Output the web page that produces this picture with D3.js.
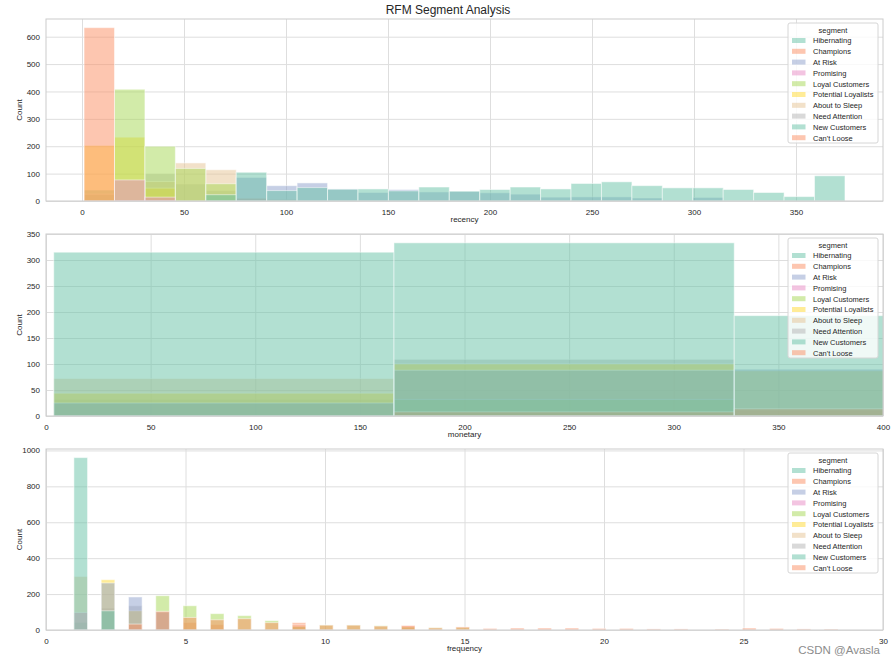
<!DOCTYPE html>
<html>
<head>
<meta charset="utf-8">
<script src="https://cdn.jsdelivr.net/npm/d3@7"></script>
<style>
  html, body { margin: 0; padding: 0; background: #fff; }
  svg { display: block; font-family: "Liberation Sans", Arial, sans-serif; }
</style>
</head>
<body>
<svg id="chart" width="895" height="664"></svg>
<script>
// ---------------- DATA ----------------
const segments = ["Hibernating", "Champions", "At Risk", "Promising", "Loyal Customers",
  "Potential Loyalists", "About to Sleep", "Need Attention", "New Customers", "Can't Loose"];
const palette = ["#66c2a5", "#fc8d62", "#8da0cb", "#e78ac3", "#a6d854",
  "#ffd92f", "#e5c494", "#b3b3b3", "#66c2a5", "#fc8d62"];

// recency histogram: 25 bins starting at 1, width 14.92
const recencyBinStart = 1;
const recencyBinWidth = 14.92;
const recencyHibernating = [0, 0, 0, 0, 23, 105, 38, 49, 43, 44, 37, 51, 36, 42, 51, 44, 64, 70, 56, 48, 48, 42, 31, 16, 92];
const recencyChampions   = [633, 0, 0, 0, 0, 0, 0, 0, 0, 0, 0, 0, 0, 0, 0, 0, 0, 0, 0, 0, 0, 0, 0, 0, 0];
const recencyAtRisk      = [0, 0, 0, 0, 0, 86, 56, 66, 44, 31, 42, 33, 35, 30, 25, 14, 15, 15, 11, 3, 13, 0, 0, 0, 0];
const recencyPromising   = [0, 77, 14, 0, 0, 0, 0, 0, 0, 0, 0, 0, 0, 0, 0, 0, 0, 0, 0, 0, 0, 0, 0, 0, 0];
const recencyLoyal       = [0, 408, 200, 119, 63, 0, 0, 0, 0, 0, 0, 0, 0, 0, 0, 0, 0, 0, 0, 0, 0, 0, 0, 0, 0];
const recencyPotential   = [203, 233, 47, 0, 0, 0, 0, 0, 0, 0, 0, 0, 0, 0, 0, 0, 0, 0, 0, 0, 0, 0, 0, 0, 0];
const recencyAboutSleep  = [0, 0, 71, 139, 114, 0, 0, 0, 0, 0, 0, 0, 0, 0, 0, 0, 0, 0, 0, 0, 0, 0, 0, 0, 0];
const recencyNeedAttn    = [25, 0, 99, 62, 38, 0, 0, 0, 0, 0, 0, 0, 0, 0, 0, 0, 0, 0, 0, 0, 0, 0, 0, 0, 0];
const recencyNewCust     = [40, 0, 0, 0, 0, 0, 0, 0, 0, 0, 0, 0, 0, 0, 0, 0, 0, 0, 0, 0, 0, 0, 0, 0, 0];
const recencyCantLoose   = [0, 0, 0, 0, 0, 10, 5, 0, 0, 0, 0, 0, 0, 0, 0, 0, 0, 0, 0, 0, 0, 0, 0, 0, 0];

// monetary histogram: bins starting at 3.7, width 162.6 (axis clipped at 400)
const monetaryBinStart = 3.7;
const monetaryBinWidth = 162.6;
const monetaryHibernating = [315, 333, 193];
const monetaryChampions   = [0, 8, 14];
const monetaryAtRisk      = [25, 88, 90];
const monetaryPromising   = [0, 0, 0];
const monetaryLoyal       = [0, 32, 0];
const monetaryPotential   = [44, 100, 87];
const monetaryAboutSleep  = [72, 0, 0];
const monetaryNeedAttn    = [32, 109, 0];
const monetaryNewCust     = [25, 0, 0];
const monetaryCantLoose   = [0, 0, 11];

// frequency: counts per integer frequency 1..28, binned with width 0.489 starting at 1
const frequencyBinStart = 1;
const frequencyBinWidth = 0.489;
const frequencyValues = d3.range(1, 29);
const frequencyHibernating = [960, 107, 0, 0, 0, 0, 0, 0, 0, 0, 0, 0, 0, 0, 0, 0, 0, 0, 0, 0, 0, 0, 0, 0, 0, 0, 0, 0];
const frequencyChampions   = [0, 0, 33, 104, 70, 57, 63, 41, 28, 27, 27, 22, 24, 12, 17, 9, 11, 11, 11, 9, 9, 6, 6, 5, 11, 9, 6, 5];
const frequencyAtRisk      = [0, 262, 184, 100, 0, 0, 0, 0, 0, 0, 0, 0, 0, 0, 0, 0, 0, 0, 0, 0, 0, 0, 0, 0, 0, 0, 0, 0];
const frequencyPromising   = [98, 0, 0, 0, 0, 0, 0, 0, 0, 0, 0, 0, 0, 0, 0, 0, 0, 0, 0, 0, 0, 0, 0, 0, 0, 0, 0, 0];
const frequencyLoyal       = [0, 0, 0, 191, 135, 91, 80, 52, 20, 28, 28, 24, 17, 13, 15, 0, 0, 0, 0, 0, 0, 0, 0, 0, 0, 0, 0, 0];
const frequencyPotential   = [0, 280, 107, 0, 0, 0, 0, 0, 0, 0, 0, 0, 0, 0, 0, 0, 0, 0, 0, 0, 0, 0, 0, 0, 0, 0, 0, 0];
const frequencyAboutSleep  = [298, 0, 0, 0, 0, 0, 0, 0, 0, 0, 0, 0, 0, 0, 0, 0, 0, 0, 0, 0, 0, 0, 0, 0, 0, 0, 0, 0];
const frequencyNeedAttn    = [0, 122, 135, 0, 0, 0, 0, 0, 0, 0, 0, 0, 0, 0, 0, 0, 0, 0, 0, 0, 0, 0, 0, 0, 0, 0, 0, 0];
const frequencyNewCust     = [42, 0, 0, 0, 0, 0, 0, 0, 0, 0, 0, 0, 0, 0, 0, 0, 0, 0, 0, 0, 0, 0, 0, 0, 0, 0, 0, 0];
const frequencyCantLoose   = [0, 0, 0, 0, 42, 30, 0, 0, 41, 0, 0, 0, 24, 0, 0, 0, 0, 0, 0, 0, 0, 0, 0, 0, 0, 0, 0, 0];

const recencyTicks = [0, 50, 100, 150, 200, 250, 300, 350];
const recencyYTicks = [0, 100, 200, 300, 400, 500, 600];
const monetaryTicks = [0, 50, 100, 150, 200, 250, 300, 350, 400];
const monetaryYTicks = [0, 50, 100, 150, 200, 250, 300, 350];
const frequencyTicks = [0, 5, 10, 15, 20, 25, 30];
const frequencyYTicks = [0, 200, 400, 600, 800, 1000];

// ---------------- BUILD BIN TABLES ----------------
function binsFromCounts(counts, start, width) {
  return counts.map((c, i) => ({ x0: start + i * width, x1: start + (i + 1) * width, count: c }));
}
function binsFromValues(values, counts, start, width) {
  const m = new Map();
  values.forEach((v, i) => {
    if (!counts[i]) return;
    const k = Math.floor((v - start) / width + 1e-9);
    m.set(k, (m.get(k) || 0) + counts[i]);
  });
  return Array.from(m, ([k, c]) => ({ x0: start + k * width, x1: start + (k + 1) * width, count: c }));
}

const recencySeries = [recencyHibernating, recencyChampions, recencyAtRisk, recencyPromising, recencyLoyal,
  recencyPotential, recencyAboutSleep, recencyNeedAttn, recencyNewCust, recencyCantLoose]
  .map(c => binsFromCounts(c, recencyBinStart, recencyBinWidth));
const monetarySeries = [monetaryHibernating, monetaryChampions, monetaryAtRisk, monetaryPromising, monetaryLoyal,
  monetaryPotential, monetaryAboutSleep, monetaryNeedAttn, monetaryNewCust, monetaryCantLoose]
  .map(c => binsFromCounts(c, monetaryBinStart, monetaryBinWidth));
const frequencySeries = [frequencyHibernating, frequencyChampions, frequencyAtRisk, frequencyPromising, frequencyLoyal,
  frequencyPotential, frequencyAboutSleep, frequencyNeedAttn, frequencyNewCust, frequencyCantLoose]
  .map(c => binsFromValues(frequencyValues, c, frequencyBinStart, frequencyBinWidth));

// ---------------- DRAW ----------------
const svg = d3.select("#chart");
const textColor = "#262626";
const gridColor = "#dedede";
const spineColor = "#cccccc";

svg.append("text")
  .attr("x", 448).attr("y", 14)
  .attr("text-anchor", "middle")
  .attr("font-size", 12)
  .attr("fill", textColor)
  .text("RFM Segment Analysis");

function panel(opts) {
  const { left, right, top, bottom, xDomain, yDomain, xTicks, yTicks, xLabel, series, legendTop, id } = opts;
  const x = d3.scaleLinear().domain(xDomain).range([left, right]);
  const y = d3.scaleLinear().domain(yDomain).range([bottom, top]);
  const g = svg.append("g");

  g.append("clipPath").attr("id", id).append("rect")
    .attr("x", left).attr("y", top).attr("width", right - left).attr("height", bottom - top);

  // grid
  g.append("g").attr("transform", `translate(0,${bottom})`)
    .call(d3.axisBottom(x).tickValues(xTicks).tickSize(-(bottom - top)).tickFormat(""))
    .call(s => s.select(".domain").remove())
    .call(s => s.selectAll("line").attr("stroke", gridColor).attr("stroke-width", 1));
  g.append("g").attr("transform", `translate(${left},0)`)
    .call(d3.axisLeft(y).tickValues(yTicks).tickSize(-(right - left)).tickFormat(""))
    .call(s => s.select(".domain").remove())
    .call(s => s.selectAll("line").attr("stroke", gridColor).attr("stroke-width", 1));

  // bars: drawn in reverse hue order so the first level ends on top
  const barsG = g.append("g").attr("clip-path", `url(#${id})`);
  for (let si = series.length - 1; si >= 0; si--) {
    barsG.append("g").selectAll("rect")
      .data(series[si].filter(d => d.count > 0))
      .join("rect")
      .attr("x", d => x(d.x0))
      .attr("width", d => x(d.x1) - x(d.x0))
      .attr("y", d => y(d.count))
      .attr("height", d => y(0) - y(d.count))
      .attr("fill", palette[si])
      .attr("fill-opacity", 0.5)
      .attr("stroke", "#ffffff")
      .attr("stroke-opacity", 0.5)
      .attr("stroke-width", 1);
  }

  // spines
  g.append("rect")
    .attr("x", left).attr("y", top).attr("width", right - left).attr("height", bottom - top)
    .attr("fill", "none").attr("stroke", spineColor).attr("stroke-width", 1);

  // tick labels
  g.append("g").attr("transform", `translate(0,${bottom})`)
    .call(d3.axisBottom(x).tickValues(xTicks).tickSize(0).tickPadding(8).tickFormat(d3.format("d")))
    .call(s => s.select(".domain").remove())
    .call(s => s.selectAll("text").attr("font-size", 8).attr("fill", textColor)
      .attr("font-family", "'Liberation Sans', Arial, sans-serif"));
  g.append("g").attr("transform", `translate(${left},0)`)
    .call(d3.axisLeft(y).tickValues(yTicks).tickSize(0).tickPadding(6).tickFormat(d3.format("d")))
    .call(s => s.select(".domain").remove())
    .call(s => s.selectAll("text").attr("font-size", 8).attr("fill", textColor)
      .attr("font-family", "'Liberation Sans', Arial, sans-serif"));

  // axis labels
  g.append("text")
    .attr("x", (left + right) / 2).attr("y", bottom + 21)
    .attr("text-anchor", "middle").attr("font-size", 8).attr("fill", textColor)
    .text(xLabel);
  g.append("text")
    .attr("transform", `translate(22,${(top + bottom) / 2}) rotate(-90)`)
    .attr("text-anchor", "middle").attr("font-size", 8).attr("fill", textColor)
    .text("Count");

  // legend
  const lx = 788, lw = 90, rowH = 10.8;
  const lg = g.append("g");
  lg.append("rect")
    .attr("x", lx).attr("y", legendTop).attr("width", lw).attr("height", 20 + rowH * segments.length - 8)
    .attr("rx", 2).attr("fill", "#ffffff").attr("fill-opacity", 0.8)
    .attr("stroke", "#d6d6d6").attr("stroke-width", 1);
  lg.append("text")
    .attr("x", lx + lw / 2).attr("y", legendTop + 9.5)
    .attr("text-anchor", "middle").attr("font-size", 7.5).attr("fill", textColor)
    .text("segment");
  segments.forEach((s, i) => {
    const cy = legendTop + 17.5 + i * rowH;
    lg.append("rect")
      .attr("x", lx + 4).attr("y", cy - 2.5).attr("width", 13.5).attr("height", 5)
      .attr("fill", palette[i]).attr("fill-opacity", 0.5);
    lg.append("text")
      .attr("x", lx + 25).attr("y", cy + 2.8)
      .attr("font-size", 7.5).attr("fill", textColor)
      .text(s);
  });
}

panel({
  id: "clipR", left: 46, right: 883, top: 19, bottom: 201,
  xDomain: [-17.65, 392.65], yDomain: [0, 664.65],
  xTicks: recencyTicks, yTicks: recencyYTicks, xLabel: "recency",
  series: recencySeries, legendTop: 23
});
panel({
  id: "clipM", left: 46, right: 883, top: 234, bottom: 416,
  xDomain: [0, 400], yDomain: [0, 350],
  xTicks: monetaryTicks, yTicks: monetaryYTicks, xLabel: "monetary",
  series: monetarySeries, legendTop: 238
});
panel({
  id: "clipF", left: 46, right: 883, top: 449, bottom: 630,
  xDomain: [0, 30], yDomain: [0, 1008],
  xTicks: frequencyTicks, yTicks: frequencyYTicks, xLabel: "frequency",
  series: frequencySeries, legendTop: 453
});

// watermark
svg.append("text")
  .attr("x", 880).attr("y", 654)
  .attr("text-anchor", "end")
  .attr("font-size", 11.5)
  .attr("fill", "#8c8c8c")
  .text("CSDN @Avasla");
</script>
</body>
</html>
